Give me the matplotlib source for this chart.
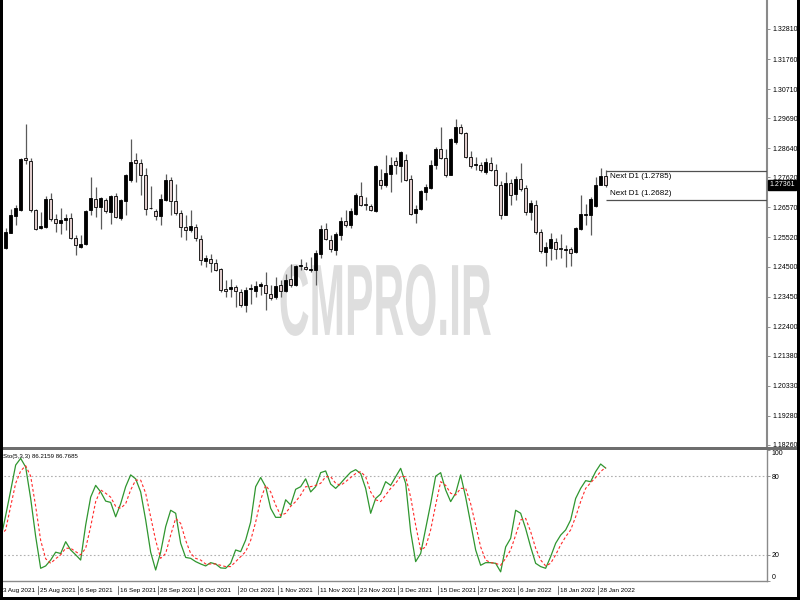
import matplotlib
matplotlib.use('Agg')
import matplotlib.pyplot as plt
import matplotlib.transforms as mtrans
from matplotlib import patheffects
import numpy as np

plt.rcParams['font.family'] = ['Liberation Sans', 'DejaVu Sans']

# daily GBPUSD-like candles
opens = [1.2515, 1.2569, 1.2626, 1.2647, 1.2829, 1.2820, 1.2647, 1.2585, 1.2589, 1.2688,
         1.2618, 1.2604, 1.2613, 1.2620, 1.2550, 1.2519, 1.2530, 1.2647, 1.2688, 1.2659,
         1.2682, 1.2641, 1.2696, 1.2619, 1.2679, 1.2754, 1.2824, 1.2813, 1.2772, 1.2656,
         1.2645, 1.2626, 1.2684, 1.2754, 1.2680, 1.2638, 1.2589, 1.2577, 1.2589, 1.2548,
         1.2470, 1.2475, 1.2464, 1.2440, 1.2370, 1.2373, 1.2379, 1.2361, 1.2317, 1.2370,
         1.2364, 1.2381, 1.2387, 1.2355, 1.2344, 1.2385, 1.2364, 1.2408, 1.2385, 1.2451,
         1.2449, 1.2437, 1.2437, 1.2493, 1.2581, 1.2542, 1.2507, 1.2560, 1.2610, 1.2597,
         1.2635, 1.2696, 1.2670, 1.2662, 1.2644, 1.2752, 1.2735, 1.2775, 1.2820, 1.2802,
         1.2822, 1.2758, 1.2638, 1.2651, 1.2711, 1.2725, 1.2807, 1.2863, 1.2830, 1.2772,
         1.2886, 1.2939, 1.2916, 1.2834, 1.2805, 1.2805, 1.2781, 1.2814, 1.2787, 1.2737,
         1.2632, 1.2744, 1.2705, 1.2758, 1.2725, 1.2641, 1.2667, 1.2571, 1.2501, 1.2515,
         1.2536, 1.2516, 1.2509, 1.2513, 1.2501, 1.2583, 1.2630, 1.2630, 1.2662, 1.2737,
         1.2766]
highs = [1.2585, 1.2650, 1.2667, 1.2830, 1.2948, 1.2830, 1.2653, 1.2641, 1.2696, 1.2709,
         1.2635, 1.2655, 1.2635, 1.2638, 1.2562, 1.2560, 1.2649, 1.2764, 1.2729, 1.2694,
         1.2690, 1.2702, 1.2709, 1.2686, 1.2775, 1.2896, 1.2848, 1.2828, 1.2795, 1.2731,
         1.2653, 1.2705, 1.2775, 1.2764, 1.2740, 1.2649, 1.2630, 1.2649, 1.2600, 1.2562,
         1.2492, 1.2495, 1.2478, 1.2445, 1.2402, 1.2408, 1.2387, 1.2373, 1.2379, 1.2390,
         1.2400, 1.2396, 1.2431, 1.2385, 1.2414, 1.2402, 1.2425, 1.2460, 1.2457, 1.2478,
         1.2466, 1.2484, 1.2507, 1.2597, 1.2604, 1.2560, 1.2571, 1.2624, 1.2647, 1.2655,
         1.2708, 1.2746, 1.2694, 1.2670, 1.2805, 1.2793, 1.2840, 1.2834, 1.2834, 1.2854,
         1.2845, 1.2770, 1.2664, 1.2717, 1.2740, 1.2822, 1.2869, 1.2939, 1.2863, 1.2898,
         1.2966, 1.2950, 1.2921, 1.2854, 1.2834, 1.2816, 1.2830, 1.2834, 1.2810, 1.2749,
         1.2781, 1.2758, 1.2766, 1.2814, 1.2735, 1.2682, 1.2682, 1.2583, 1.2536, 1.2569,
         1.2550, 1.2563, 1.2527, 1.2519, 1.2589, 1.2702, 1.2670, 1.2694, 1.2764, 1.2795,
         1.2787]
lows = [1.2513, 1.2566, 1.2594, 1.2646, 1.2810, 1.2641, 1.2577, 1.2583, 1.2585, 1.2609,
        1.2571, 1.2565, 1.2577, 1.2546, 1.2492, 1.2515, 1.2527, 1.2630, 1.2624, 1.2583,
        1.2639, 1.2600, 1.2620, 1.2614, 1.2632, 1.2746, 1.2746, 1.2700, 1.2632, 1.2652,
        1.2612, 1.2594, 1.2679, 1.2630, 1.2630, 1.2554, 1.2542, 1.2571, 1.2539, 1.2455,
        1.2449, 1.2431, 1.2434, 1.2361, 1.2344, 1.2344, 1.2309, 1.2309, 1.2291, 1.2320,
        1.2344, 1.2350, 1.2297, 1.2332, 1.2338, 1.2344, 1.2361, 1.2379, 1.2382, 1.2437,
        1.2437, 1.2431, 1.2385, 1.2480, 1.2542, 1.2501, 1.2492, 1.2542, 1.2589, 1.2585,
        1.2632, 1.2662, 1.2647, 1.2644, 1.2641, 1.2721, 1.2729, 1.2711, 1.2775, 1.2746,
        1.2749, 1.2632, 1.2604, 1.2647, 1.2682, 1.2721, 1.2793, 1.2828, 1.2764, 1.2770,
        1.2880, 1.2912, 1.2830, 1.2796, 1.2787, 1.2781, 1.2775, 1.2784, 1.2732, 1.2618,
        1.2630, 1.2667, 1.2682, 1.2714, 1.2632, 1.2612, 1.2565, 1.2499, 1.2452, 1.2472,
        1.2476, 1.2480, 1.2449, 1.2452, 1.2499, 1.2577, 1.2594, 1.2560, 1.2659, 1.2735,
        1.2729]
closes = [1.2571, 1.2629, 1.2656, 1.2828, 1.2822, 1.2647, 1.2583, 1.2591, 1.2688, 1.2616,
          1.2604, 1.2613, 1.2620, 1.2550, 1.2527, 1.2530, 1.2645, 1.2690, 1.2659, 1.2691,
          1.2644, 1.2696, 1.2624, 1.2682, 1.2772, 1.2816, 1.2813, 1.2772, 1.2653, 1.2654,
          1.2626, 1.2686, 1.2754, 1.2679, 1.2638, 1.2589, 1.2577, 1.2591, 1.2550, 1.2474,
          1.2481, 1.2464, 1.2439, 1.2367, 1.2364, 1.2379, 1.2364, 1.2317, 1.2369, 1.2376,
          1.2381, 1.2390, 1.2359, 1.2340, 1.2382, 1.2364, 1.2402, 1.2385, 1.2452, 1.2454,
          1.2441, 1.2443, 1.2496, 1.2581, 1.2546, 1.2513, 1.2563, 1.2609, 1.2597, 1.2645,
          1.2702, 1.2666, 1.2664, 1.2647, 1.2801, 1.2735, 1.2779, 1.2807, 1.2807, 1.2851,
          1.2754, 1.2635, 1.2651, 1.2714, 1.2729, 1.2807, 1.2863, 1.2830, 1.2772, 1.2896,
          1.2939, 1.2916, 1.2834, 1.2802, 1.2810, 1.2787, 1.2816, 1.2787, 1.2735, 1.2632,
          1.2744, 1.2702, 1.2758, 1.2721, 1.2641, 1.2674, 1.2571, 1.2504, 1.2519, 1.2546,
          1.2513, 1.2513, 1.2513, 1.2499, 1.2585, 1.2635, 1.2635, 1.2688, 1.2737, 1.2766,
          1.2736]

# Stochastic(5,3,3), first value belongs to the bar hidden under the left edge
stoch_k = [32,
           50, 69, 88.5, 93.6, 87, 63, 34, 9.7, 11.5, 16,
           22, 21, 30, 23.7, 20, 16, 42.7, 64, 73, 68,
           61, 60, 49, 59, 72, 81, 78, 68, 46.6, 22,
           8.4, 22, 41.5, 54, 51.7, 28.8, 18, 17.3, 14.8, 13,
           11.5, 14, 13, 10, 9.7, 13.5, 23.7, 22.4, 31.3, 45,
           72, 79, 72, 55.5, 48.6, 48.6, 62, 58, 70, 72,
           78, 68, 72, 82.7, 84, 74, 70.7, 74.6, 79, 83,
           85, 82, 70.7, 51.7, 63, 66.4, 75.8, 73, 79.6, 86,
           74.6, 37.7, 14.8, 21, 40, 59, 80, 82.7, 69.5, 60.6,
           67, 81, 64, 44, 23.7, 12, 14, 14, 13.5, 7,
           26, 32.6, 54, 51.7, 40, 26, 13.5, 11, 9.7, 18.6,
           28.8, 35, 39, 46.6, 63, 70.7, 76.6, 75.8, 83.5, 89.3, 86.2]
stoch_d = [35,
           39, 57, 74.6, 84, 88, 80, 57, 31, 17, 13.5,
           17, 20, 25, 25, 22.4, 20, 25, 41.5, 60.6, 69.5,
           67, 64, 57, 55.5, 59, 69.5, 77, 77, 67, 49,
           31, 17.3, 21, 35, 47.8, 44, 31, 21, 17.3, 16,
           13, 13, 13, 12, 11, 11, 14.8, 18.6, 22.4, 31,
           45, 62, 73, 68, 58, 50, 51.7, 57, 60.6, 65.6,
           72, 72, 73, 74.6, 79.6, 79.6, 74.6, 73, 75.8, 79,
           82, 83.5, 79.6, 68, 62, 60.6, 65.6, 70.7, 74.6, 80,
           79.6, 64, 42.7, 23.7, 26, 39, 58, 75.8, 73, 67,
           65.6, 70.7, 70.7, 59, 42.7, 26, 16, 14, 13.5, 12,
           17.3, 23.7, 35, 46.6, 47.8, 37.7, 25, 16, 11.5, 13.5,
           20, 27.5, 33.8, 39, 49, 60.6, 70.7, 75, 79, 83.5, 86.8]

price_ticks = [1.32810, 1.31760, 1.30710, 1.29690, 1.28640, 1.27620, 1.26570, 1.25520,
               1.24500, 1.23450, 1.22400, 1.21380, 1.20330, 1.19280, 1.18260]
date_idx = [0, 8, 16, 24, 32, 40, 48, 56, 64, 72, 80, 88, 96, 104, 112, 120]
date_labels = ['3 Aug 2021', '25 Aug 2021', '6 Sep 2021', '16 Sep 2021', '28 Sep 2021',
               '8 Oct 2021', '20 Oct 2021', '1 Nov 2021', '11 Nov 2021', '23 Nov 2021',
               '3 Dec 2021', '15 Dec 2021', '27 Dec 2021', '6 Jan 2022', '18 Jan 2022',
               '28 Jan 2022']
next_d1 = [1.2785, 1.2682]
last_price = 1.27361
sto_k_last, sto_d_last = 86.2159, 86.7685


class Squeeze(patheffects.AbstractPathEffect):
    # narrow the glyphs around the text anchor (watermark font is very condensed)
    def __init__(self, ax, anchor, sx):
        super().__init__()
        self.ax, self.anchor, self.sx = ax, anchor, sx

    def draw_path(self, renderer, gc, tpath, affine, rgbFace=None):
        cx, cy = self.ax.transData.transform(self.anchor)
        aff = affine + mtrans.Affine2D().translate(-cx, 0).scale(self.sx, 1).translate(cx, 0)
        renderer.draw_path(gc, tpath, aff, rgbFace)


W, H = 800, 600
def px_box(x0, y0, x1, y1):
    return [x0 / W, 1 - y1 / H, (x1 - x0) / W, (y1 - y0) / H]

fig = plt.figure(figsize=(8, 6), dpi=100)
ax = fig.add_axes(px_box(0, 0, 767, 447))
ax2 = fig.add_axes(px_box(0, 450, 767, 581))

xlim = (-0.134, 153.27)
xs = np.arange(1, len(opens) + 1)
o = np.array(opens); h = np.array(highs); l = np.array(lows); c = np.array(closes)

# watermark
wm_pos = (76.9, 1.2211)
ax.text(wm_pos[0], wm_pos[1], 'CMPRO.IR', fontsize=73, fontweight='bold', color='#dedede',
        ha='center', va='baseline', zorder=0,
        path_effects=[Squeeze(ax, wm_pos, 0.42)])

# candles
ax.vlines(xs, l, h, color='#5a5a5a', lw=0.9, zorder=2)
bull = c > o
body_bot = np.minimum(o, c)
body_h = np.maximum(np.abs(c - o), 0.00012)
ax.bar(xs, body_h, bottom=body_bot, width=0.62,
       color=np.where(bull, 'black', '#e0cccc'), edgecolor='black',
       linewidth=0.6, zorder=3)

# next D1 levels
ax.hlines(next_d1, 121.07, xlim[1], color='#505050', lw=0.9, zorder=4)
ax.text(121.9, 1.2766, 'Next D1 (%.4f)' % next_d1[0], fontsize=5.8, va='center', ha='left')
ax.text(121.9, 1.27065, 'Next D1 (%.4f)' % next_d1[1], fontsize=5.8, va='center', ha='left')

ax.set_xlim(*xlim)
ax.set_ylim(1.18190, 1.33824)
ax.set_xticks([])
ax.yaxis.tick_right()
ax.set_yticks(price_ticks)
ax.set_yticklabels(['%.5f' % t for t in price_ticks])
ax.tick_params(axis='y', length=2.5, width=0.6, color='#808080', labelsize=5, pad=1.5)
for s in ['left', 'top', 'bottom']:
    ax.spines[s].set_visible(False)
ax.spines['right'].set_color('#8a8a8a')
ax.spines['right'].set_linewidth(1.5)

blend = mtrans.blended_transform_factory(ax.transAxes, ax.transData)
ax.text(1.003, last_price, '%.5f' % last_price, transform=blend, fontsize=5,
        color='white', va='center', ha='left', zorder=6, clip_on=False,
        bbox=dict(boxstyle='square,pad=0.2', fc='black', ec='black'))

# stochastic panel
sx = np.arange(0, len(stoch_k))
ax2.axhline(80, color='#b0b0b0', lw=0.8, ls=(0, (1.5, 2)))
ax2.axhline(20, color='#b0b0b0', lw=0.8, ls=(0, (1.5, 2)))
ax2.plot(sx, stoch_k, color='#2f962f', lw=0.9)
ax2.plot(sx, stoch_d, color='#ff2a2a', lw=0.8, ls=(0, (2.5, 2)))
ax2.set_xlim(*xlim)
ax2.set_ylim(0, 100)
ax2.set_xticks([])
ax2.yaxis.tick_right()
ax2.set_yticks([0, 20, 80, 100])
ax2.set_yticklabels(['0', '20', '80', '100'])
ax2.tick_params(axis='y', length=2, width=0.6, color='#808080', labelsize=5, pad=1.5)
lbls = ax2.get_yticklabels()
lbls[0].set_va('bottom')
lbls[-1].set_va('top')
for s in ['left', 'top']:
    ax2.spines[s].set_visible(False)
for s in ['right', 'bottom']:
    ax2.spines[s].set_color('#8a8a8a')
    ax2.spines[s].set_linewidth(1.0)

dblend = mtrans.blended_transform_factory(ax2.transData, ax2.transAxes)
ax2.text(0.47, 0.947, 'Sto(5,3,3) %.4f %.4f' % (sto_k_last, sto_d_last), fontsize=4.4,
         ha='left', va='center', transform=dblend)

for i, lab in zip(date_idx, date_labels):
    xt = max(i - 0.14, 0.47)
    ax2.text(xt, -0.07, lab, fontsize=4.6, ha='left', va='center', transform=dblend, clip_on=False)
    if i > 0:
        ax2.plot([i - 0.55, i - 0.55], [-0.035, -0.1], color='#606060', lw=0.6,
                 transform=dblend, clip_on=False)

# separator and outer frame
fig.add_artist(plt.Rectangle((0, 1 - 450 / H), 1, 3 / H, transform=fig.transFigure,
                             color='#6e6e6e', lw=0))
fig.add_artist(plt.Rectangle((0, 0), 3 / W, 1, transform=fig.transFigure, color='black', lw=0))
fig.add_artist(plt.Rectangle((1 - 3 / W, 0), 3 / W, 1, transform=fig.transFigure, color='black', lw=0))
fig.add_artist(plt.Rectangle((0, 0), 1, 3 / H, transform=fig.transFigure, color='black', lw=0))

fig.savefig('out.png', dpi=100)
